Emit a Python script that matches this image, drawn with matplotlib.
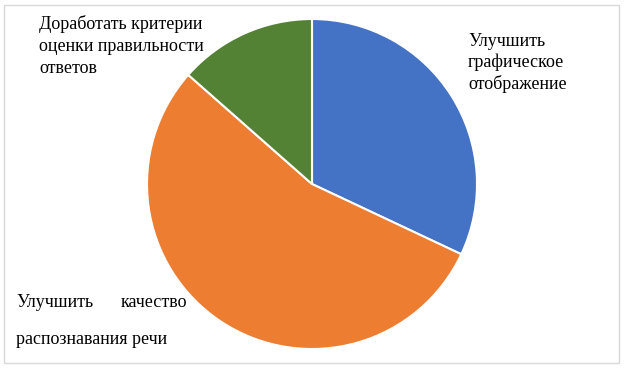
import matplotlib
matplotlib.use("Agg")
import matplotlib.pyplot as plt
from matplotlib.patches import Rectangle

categories = ["Улучшить графическое отображение",
              "Улучшить качество распознавания речи",
              "Доработать критерии оценки правильности ответов"]
values = [32, 54.5, 13.5]
colors = ["#4472C4", "#ED7D31", "#548235"]

plt.rcParams['font.family'] = ['Liberation Serif', 'DejaVu Serif']

fig = plt.figure(figsize=(6.24, 3.68), dpi=100)
fig.patches.append(Rectangle((4/624, 5/368), 615/624, 358/368, transform=fig.transFigure,
                             fill=False, edgecolor="#d9d9d9", linewidth=1))

r = 165
cx, cy = 312, 184
ax = fig.add_axes([(cx - r) / 624, (368 - cy - r) / 368, 2 * r / 624, 2 * r / 368])
ax.pie(values, colors=colors, startangle=90, counterclock=False,
       wedgeprops=dict(edgecolor="white", linewidth=1.5))
ax.set_aspect('equal')
ax.set_xlim(-1, 1)
ax.set_ylim(-1, 1)

fs = 13
def px(x, y):
    return x / 624, 1 - y / 368

def put(x, y, s, ha="left"):
    fig.text(*px(x, y), s, fontsize=fs, va="baseline", ha=ha)

put(39, 29, "Доработать критерии")
put(39, 51, "оценки правильности")
put(39, 73, "ответов")
put(468, 46, "Улучшить")
put(468, 67, "графическое")
put(468, 89, "отображение")
put(16, 307, "Улучшить")
put(187, 307, "качество", ha="right")
put(16, 344, "распознавания речи")

fig.savefig("out.png", dpi=100)
